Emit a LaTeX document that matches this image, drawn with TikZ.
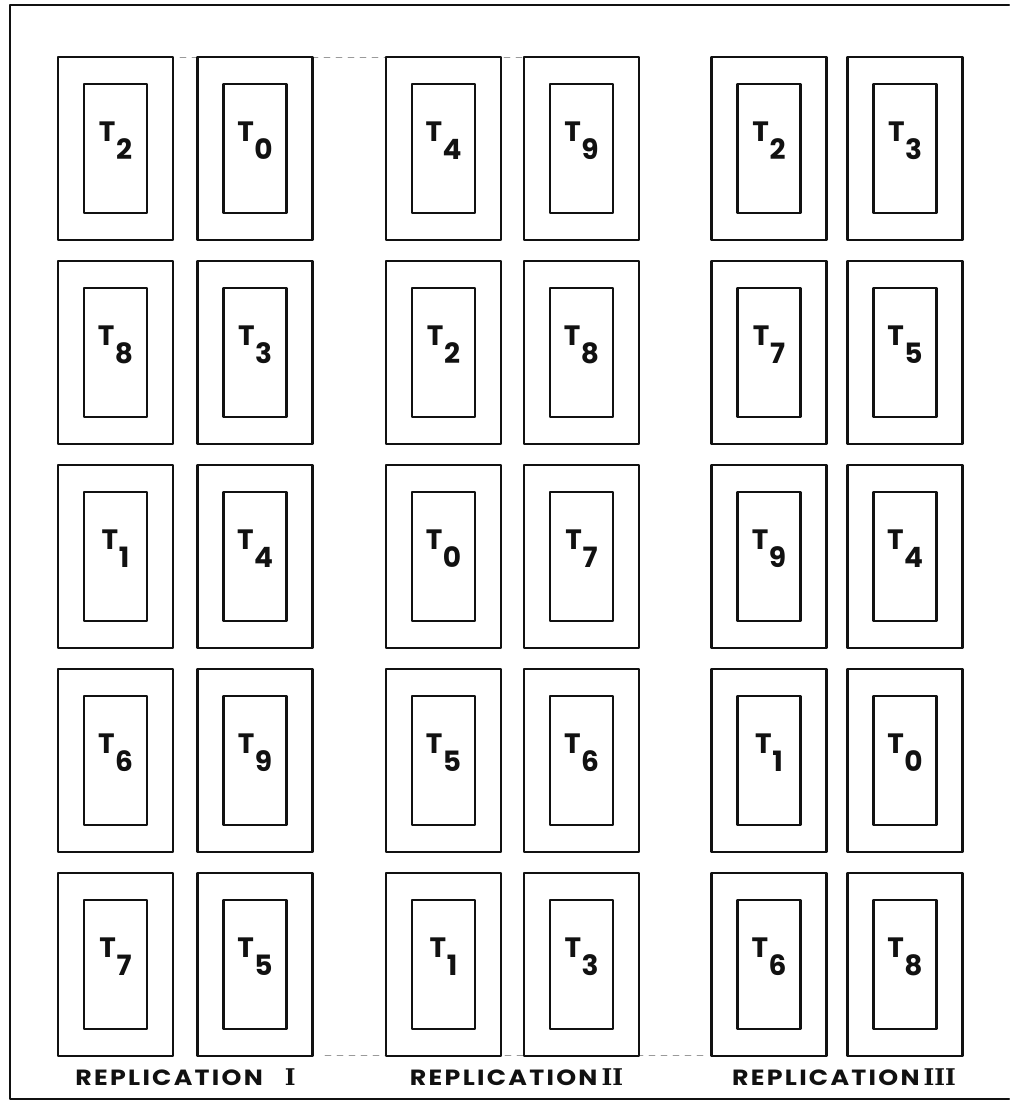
\documentclass[tikz,border=0pt]{standalone}
\usepackage{fontspec}
\setsansfont{Poppins}
\newfontfamily\numfont{DejaVu Serif}
\usetikzlibrary{positioning}
\definecolor{ink}{HTML}{111111}
\definecolor{guidegray}{HTML}{9A9A9A}
\tikzset{
  field/.style={
    x=1pt, y=-1pt,
    line join=round,
    line cap=round,
  },
  plot/.style={
    draw=ink,
    line width=2.4pt,
    minimum width=115pt,
    minimum height=183pt,
    inner sep=0pt,
  },
  netplot/.style={
    draw=ink,
    line width=2.4pt,
    minimum width=63pt,
    minimum height=129pt,
    inner sep=0pt,
  },
  trt/.style={
    font=\sffamily\bfseries\fontsize{28}{30}\selectfont,
    text=ink,
    inner sep=0pt,
  },
  replab/.style={
    font=\sffamily\bfseries\fontsize{22}{24}\selectfont,
    text=ink,
    inner sep=0pt,
  },
  frame/.style={draw=ink, line width=2pt},
  guide/.style={draw=guidegray, line width=0.6pt, dash pattern=on 6pt off 6pt},
}
\newcommand{\repword}{\scalebox{1.15}[1]{\addfontfeature{LetterSpace=9}REPLICATION}}
\newcommand{\repnum}[1]{{\numfont\bfseries\fontsize{23}{24}\selectfont #1}}

\begin{document}
\begin{tikzpicture}[field]
  \useasboundingbox (0,0) rectangle (1009,1107);

  % sheet edge (open on the right)
  \draw[frame] (1009,5) -- (10,5) -- (10,1099) -- (1009,1099);

  % faint layout guides
  \draw[guide] (180,57) -- (530,57);
  \draw[guide] (325,1055) -- (705,1055);

  \def\ytop{148.5}
  \def\dy{204}

  % one column of five plots each
  \foreach \col/\cx/\trts in {
      a/115.5/{2,8,1,6,7},
      b/255/{0,3,4,9,5},
      c/443.5/{4,2,0,5,1},
      d/581.5/{9,8,7,6,3},
      e/769/{2,7,9,1,6},
      f/905/{3,5,4,0,8}} {
    \foreach \t [count=\r] in \trts {
      \pgfmathsetmacro{\cy}{\ytop+(\r-1)*\dy}
      \node[plot] (plot-\col-\r) at (\cx,\cy) {};
      \node[netplot] (net-\col-\r) at (plot-\col-\r.center) {};
      \node[trt] (trt-\col-\r) at ([yshift=8pt]net-\col-\r.center)
        {T\kern0.5pt\raisebox{-18pt}{\t}};
    }
  }

  \node[replab] (rep-1) at (185.5,1077) {\repword\hspace{22pt}\repnum{I}};
  \node[replab] (rep-2) at (516.5,1077) {\repword\hspace{4pt}\repnum{II}};
  \node[replab] (rep-3) at (844,1077) {\repword\hspace{4pt}\repnum{III}};
\end{tikzpicture}
\end{document}
